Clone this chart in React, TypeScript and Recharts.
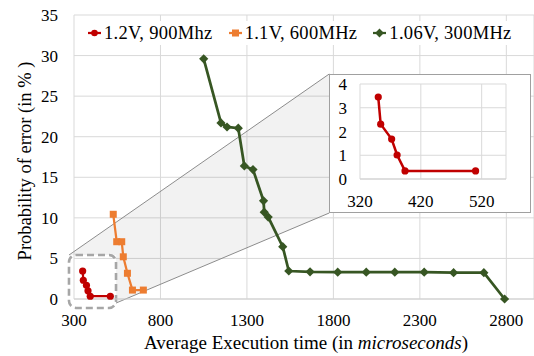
import React from "react";
import {
  LineChart,
  Line,
  XAxis,
  YAxis,
  CartesianGrid,
  Legend,
  ReferenceArea,
} from "recharts";

const FONT = "Liberation Serif, Tinos, DejaVu Serif, Times New Roman, serif";

// execution time (microseconds) and error probability (%) per operating point
const redTime = [350, 354, 372, 381, 394, 510];
const redErr = [3.45, 2.31, 1.68, 1.01, 0.34, 0.34];
const orangeTime = [527, 547, 576, 585, 609, 638, 701];
const orangeErr = [10.44, 7.06, 7.06, 5.2, 3.17, 1.1, 1.1];
const greenTime = [1050, 1150, 1185, 1250, 1285, 1335, 1396, 1400, 1423, 1507, 1542, 1665, 1825, 1990, 2155, 2325, 2495, 2670, 2790];
const greenErr = [29.6, 21.7, 21.2, 21.05, 16.4, 15.95, 12.1, 10.7, 10.1, 6.45, 3.45, 3.35, 3.3, 3.3, 3.3, 3.3, 3.25, 3.25, 0];

const seriesNames = ["1.2V, 900Mhz", "1.1V, 600MHz", "1.06V, 300MHz"];
const seriesColors = ["#c00000", "#ed7d31", "#375623"];

const xTicks = [300, 800, 1300, 1800, 2300, 2800];
const yTicks = [0, 5, 10, 15, 20, 25, 30, 35];
const insetXTicks = [320, 420, 520];
const insetYTicks = [0, 1, 2, 3, 4];

// zoom box around the red series and the funnel towards the inset (data units)
const zoomBox = { x1: 271, x2: 543, y1: -1.1, y2: 5.42 };
const funnel = { x1: 271, x2: 1776, y1: -0.5, y2: 27.73 };
const funnelPts = [
  [271, 5.42],
  [1776, 27.73],
  [1776, 10.6],
  [543, -0.5],
  [543, 5.42],
];

const zip = (xs: number[], ys: number[]) => xs.map((x, i) => ({ x, y: ys[i] }));
const redData = zip(redTime, redErr);
const orangeData = zip(orangeTime, orangeErr);
const greenData = zip(greenTime, greenErr);

const Circle = (color: string) => (p: any) =>
  <circle key={p.index} cx={p.cx} cy={p.cy} r={3.6} fill={color} />;
const Square = (color: string) => (p: any) =>
  <rect key={p.index} x={p.cx - 3.5} y={p.cy - 3.5} width={7} height={7} fill={color} />;
const Diamond = (color: string) => (p: any) => (
  <polygon
    key={p.index}
    points={`${p.cx},${p.cy - 4.6} ${p.cx + 4.6},${p.cy} ${p.cx},${p.cy + 4.6} ${p.cx - 4.6},${p.cy}`}
    fill={color}
  />
);

const FunnelShape = (p: any) => {
  const { x, y, width, height } = p;
  const px = (v: number) => x + ((v - funnel.x1) / (funnel.x2 - funnel.x1)) * width;
  const py = (v: number) => y + ((funnel.y2 - v) / (funnel.y2 - funnel.y1)) * height;
  const pts = funnelPts.map(([a, b]) => [px(a), py(b)]);
  return (
    <g>
      <polygon points={pts.map((q) => q.join(",")).join(" ")} fill="#000" fillOpacity={0.05} />
      <line x1={pts[0][0]} y1={pts[0][1]} x2={pts[1][0]} y2={pts[1][1]} stroke="#8c8c8c" strokeWidth={1} />
      <line x1={pts[3][0]} y1={pts[3][1]} x2={pts[2][0]} y2={pts[2][1]} stroke="#8c8c8c" strokeWidth={1} />
    </g>
  );
};

const BoxShape = (p: any) => (
  <rect
    x={p.x}
    y={p.y}
    width={p.width}
    height={p.height}
    rx={7}
    fill="none"
    stroke="#a6a6a6"
    strokeWidth={2.6}
    strokeDasharray="7 4"
  />
);

const LegendIcon = ({ i }: { i: number }) => {
  const c = seriesColors[i];
  return (
    <svg width={13} height={10} style={{ marginRight: 3 }}>
      <line x1={0} y1={5} x2={13} y2={5} stroke={c} strokeWidth={2.25} />
      {i === 0 && <circle cx={6.5} cy={5} r={3.3} fill={c} />}
      {i === 1 && <rect x={3} y={1.5} width={7} height={7} fill={c} />}
      {i === 2 && <polygon points="6.5,0.6 10.9,5 6.5,9.4 2.1,5" fill={c} />}
    </svg>
  );
};

const renderLegend = () => (
  <div style={{ display: "flex", alignItems: "center", height: 24, background: "#fff", paddingLeft: 6, fontFamily: FONT }}>
    {seriesNames.map((n, i) => (
      <div key={n} style={{ display: "flex", alignItems: "center", marginRight: 16, fontSize: 18.5, letterSpacing: 0.3, color: "#000" }}>
        <LegendIcon i={i} />
        <span>{n}</span>
      </div>
    ))}
  </div>
);

const XTitle = () => (
  <text x={306} y={349} textAnchor="middle" fontSize={19} fill="#000" style={{ fontFamily: FONT }}>
    Average Execution time (in <tspan fontStyle="italic">microseconds</tspan>)
  </text>
);

const YTitle = () => (
  <text
    x={31}
    y={161}
    transform="rotate(-90 31 161)"
    textAnchor="middle"
    fontSize={18.5}
    fill="#000"
    style={{ fontFamily: FONT }}
  >
    Probability of error (in % )
  </text>
);

const tick = { fill: "#000", fontSize: 17, style: { fontFamily: FONT } };

function Inset() {
  return (
    <div
      style={{
        position: "absolute",
        left: 329,
        top: 74,
        width: 202,
        height: 139,
        border: "1px solid #a0a0a0",
        background: "#fff",
        boxSizing: "border-box",
      }}
    >
      <LineChart width={200} height={137} margin={{ top: 9, right: 24, bottom: 0, left: 0 }}>
        <CartesianGrid stroke="#d9d9d9" />
        <XAxis
          type="number"
          dataKey="x"
          domain={[320, 560]}
          ticks={insetXTicks}
          tickSize={0}
          tickMargin={16}
          height={33}
          stroke="#d0d0d0"
          tick={tick}
          interval={0}
        />
        <YAxis
          type="number"
          domain={[0, 4]}
          ticks={insetYTicks}
          width={30}
          tickSize={0}
          tickMargin={13}
          axisLine={false}
          tick={tick}
          interval={0}
        />
        <Line
          data={redData}
          dataKey="y"
          stroke={seriesColors[0]}
          strokeWidth={2.5}
          dot={Circle(seriesColors[0])}
          isAnimationActive={false}
        />
      </LineChart>
    </div>
  );
}

export default function App() {
  return (
    <div style={{ position: "absolute", left: 0, top: 0, width: 534, height: 356, fontFamily: FONT, background: "#fff" }}>
      <LineChart width={534} height={356} margin={{ top: 15, right: 0, bottom: 17, left: 10 }} style={{ fontFamily: FONT }}>
        <CartesianGrid stroke="#d9d9d9" />
        <XAxis
          type="number"
          dataKey="x"
          domain={[300, 2960]}
          ticks={xTicks}
          interval={0}
          tickSize={0}
          tickMargin={15}
          height={40}
          stroke="#d0d0d0"
          tick={tick}
          label={{ content: XTitle }}
        />
        <YAxis
          type="number"
          domain={[0, 35]}
          ticks={yTicks}
          interval={0}
          width={64}
          tickSize={0}
          tickMargin={16}
          axisLine={false}
          tick={tick}
          label={{ content: YTitle }}
        />
        <ReferenceArea
          x1={funnel.x1}
          x2={funnel.x2}
          y1={funnel.y1}
          y2={funnel.y2}
          ifOverflow="visible"
          shape={FunnelShape}
        />
        <ReferenceArea
          x1={zoomBox.x1}
          x2={zoomBox.x2}
          y1={zoomBox.y1}
          y2={zoomBox.y2}
          ifOverflow="visible"
          shape={BoxShape}
        />
        <Legend
          verticalAlign="middle"
          align="center"
          layout="horizontal"
          content={renderLegend}
          wrapperStyle={{ top: 21, left: 82, width: 446, height: 24 }}
        />
        <Line
          name={seriesNames[0]}
          data={redData}
          dataKey="y"
          stroke={seriesColors[0]}
          strokeWidth={2.25}
          dot={Circle(seriesColors[0])}
          isAnimationActive={false}
        />
        <Line
          name={seriesNames[1]}
          data={orangeData}
          dataKey="y"
          stroke={seriesColors[1]}
          strokeWidth={2.25}
          dot={Square(seriesColors[1])}
          isAnimationActive={false}
        />
        <Line
          name={seriesNames[2]}
          data={greenData}
          dataKey="y"
          stroke={seriesColors[2]}
          strokeWidth={2.75}
          dot={Diamond(seriesColors[2])}
          isAnimationActive={false}
        />
      </LineChart>
      <Inset />
    </div>
  );
}
